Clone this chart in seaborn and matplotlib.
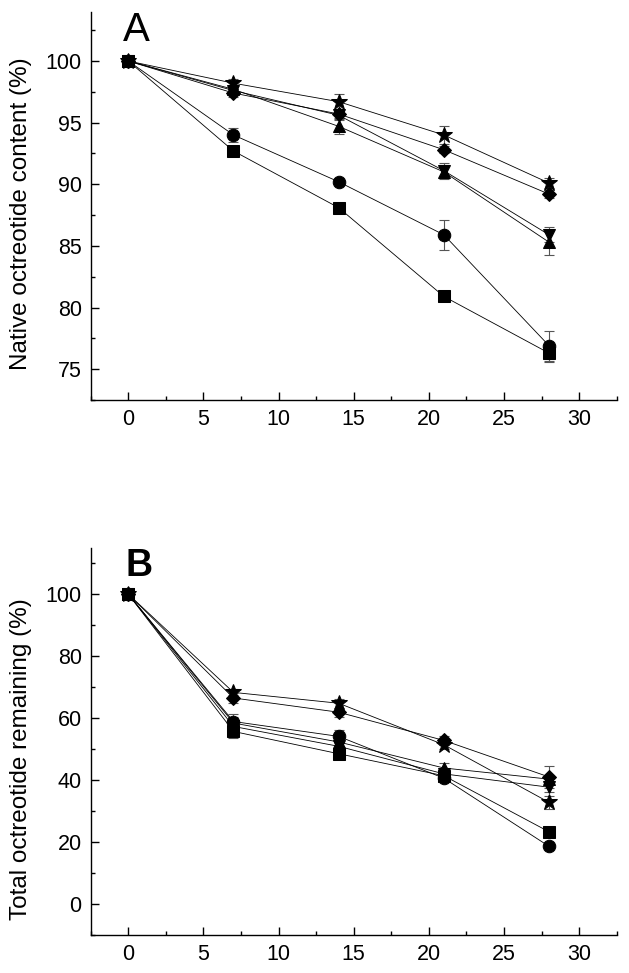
import numpy as np
import pandas as pd
import matplotlib
matplotlib.use("Agg")
import matplotlib.pyplot as plt
import seaborn as sns
from matplotlib.ticker import MultipleLocator

# storage time (days)
days = [0, 7, 14, 21, 28]

# panel A: native octreotide content (%)
a_square = [100, 92.7, 88.1, 80.9, 76.3]
a_circle = [100, 94.0, 90.2, 85.9, 76.9]
a_tri_up = [100, 97.7, 94.7, 91.0, 85.3]
a_tri_down = [100, 97.6, 95.6, 91.1, 85.9]
a_diamond = [100, 97.4, 95.7, 92.8, 89.2]
a_star = [100, 98.2, 96.7, 94.0, 90.1]

a_square_err = [0, 0.3, 0.2, 0.2, 0.7]
a_circle_err = [0, 0.55, 0.2, 1.2, 1.2]
a_tri_up_err = [0, 0.3, 0.6, 0.6, 1.0]
a_tri_down_err = [0, 0.3, 0.4, 0.6, 0.6]
a_diamond_err = [0, 0.3, 0.3, 0.3, 0.3]
a_star_err = [0, 0.3, 0.65, 0.7, 0.4]

# panel B: total octreotide remaining (%)
b_square = [100, 55.7, 48.5, 41.4, 23.3]
b_circle = [100, 58.9, 54.1, 40.6, 18.6]
b_tri_up = [100, 58.4, 52.3, 43.9, 40.3]
b_tri_down = [100, 57.3, 50.9, 42.0, 37.7]
b_diamond = [100, 66.5, 61.9, 52.8, 41.0]
b_star = [100, 68.3, 64.8, 51.4, 32.8]

b_square_err = [0, 2.0, 1.0, 1.0, 1.0]
b_circle_err = [0, 2.5, 2.0, 1.0, 1.0]
b_tri_up_err = [0, 2.0, 1.5, 1.5, 1.5]
b_tri_down_err = [0, 2.0, 1.5, 1.5, 1.5]
b_diamond_err = [0, 1.5, 1.5, 1.5, 3.4]
b_star_err = [0, 1.0, 1.5, 1.5, 2.0]

markers = ['s', 'o', '^', 'v', 'D', '*']
msizes = [8, 9, 9, 9, 7.5, 12]

sns.set_style("ticks")
plt.rcParams['font.family'] = ['Liberation Sans', 'DejaVu Sans']
plt.rcParams['text.color'] = 'black'
plt.rcParams['axes.labelcolor'] = 'black'
plt.rcParams['xtick.color'] = 'black'
plt.rcParams['ytick.color'] = 'black'

fig = plt.figure(figsize=(6.29, 9.73), dpi=100)
W, H = 629.0, 973.0
axA = fig.add_axes([90.7 / W, (H - 400) / H, 526 / W, (400 - 11.7) / H])
axB = fig.add_axes([90.7 / W, (H - 935) / H, 526 / W, (935 - 547.7) / H])


def draw(ax, series, errs):
    for vals, err, m, ms in zip(series, errs, markers, msizes):
        ax.errorbar(days, vals, yerr=err, fmt='none', ecolor='#555555',
                    elinewidth=0.8, capsize=3.5, capthick=0.8, zorder=2)
        sns.lineplot(x=days, y=vals, ax=ax, color='black', linewidth=0.6,
                     marker=m, markersize=ms, markeredgecolor='black',
                     markerfacecolor='black', zorder=3)
    for s in ['top', 'right']:
        ax.spines[s].set_visible(False)
    for s in ['left', 'bottom']:
        ax.spines[s].set_linewidth(1.0)
        ax.spines[s].set_color('black')
    ax.set_xlim(-2.5, 32.5)
    ax.xaxis.set_major_locator(MultipleLocator(5))
    ax.xaxis.set_minor_locator(MultipleLocator(2.5))
    ax.tick_params(which='major', direction='in', length=5.8, width=1.0,
                   labelsize=15.5, pad=6.5, color='black', labelcolor='black')
    ax.tick_params(which='minor', direction='in', length=3, width=1.0,
                   color='black')
    ax.set_xlabel('')


draw(axA, [a_square, a_circle, a_tri_up, a_tri_down, a_diamond, a_star],
     [a_square_err, a_circle_err, a_tri_up_err, a_tri_down_err, a_diamond_err, a_star_err])
axA.set_ylim(72.5, 104)
axA.yaxis.set_major_locator(MultipleLocator(5))
axA.yaxis.set_minor_locator(MultipleLocator(2.5))
axA.set_ylabel('Native octreotide content (%)', fontsize=17.5)
axA.yaxis.set_label_coords(-0.111, 0.48)

draw(axB, [b_square, b_circle, b_tri_up, b_tri_down, b_diamond, b_star],
     [b_square_err, b_circle_err, b_tri_up_err, b_tri_down_err, b_diamond_err, b_star_err])
axB.set_ylim(-10, 115)
axB.yaxis.set_major_locator(MultipleLocator(20))
axB.yaxis.set_minor_locator(MultipleLocator(10))
axB.set_ylabel('Total octreotide remaining (%)', fontsize=17.5)
axB.yaxis.set_label_coords(-0.111, 0.453)

fig.text(123 / W, (H - 40.7) / H, 'A', fontsize=29, va='baseline', ha='left')
fig.text(125 / W, (H - 576) / H, 'B', fontsize=27, fontweight='bold',
         va='baseline', ha='left')

fig.savefig('out.png', dpi=100)
